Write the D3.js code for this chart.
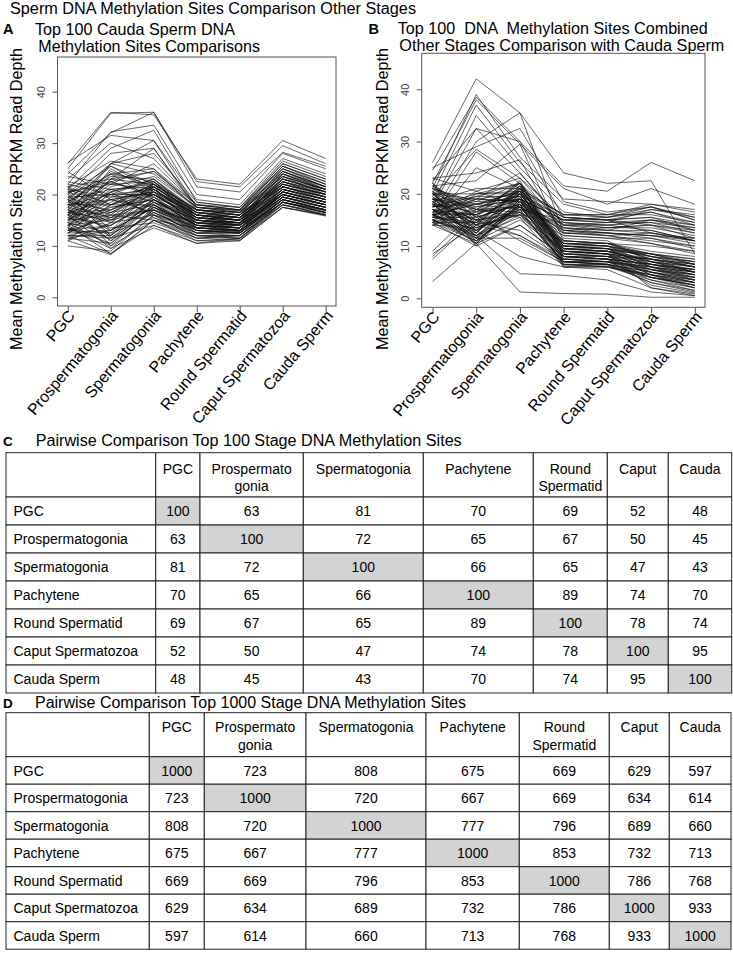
<!DOCTYPE html>
<html><head><meta charset="utf-8">
<script src="https://cdn.jsdelivr.net/npm/d3@7"></script>
<style>body{margin:0;background:#fff}svg{display:block}</style>
</head><body>
<svg id="c" width="733" height="953"></svg>
<script>
const stages = ["PGC","Prospermatogonia","Spermatogonia","Pachytene","Round Spermatid","Caput Spermatozoa","Cauda Sperm"];
const yTicks = [0,10,20,30,40];

// Panel A: top 100 cauda sperm sites, mean RPKM per stage
const methA = [
[26,36,35.5,23,22,30.5,27],[25,35.8,36,22.5,21.5,29.5,26],[24,32,36,21.5,20.5,28.2,25.5],[22,32.2,33.5,20,19,28,25],
[26.2,31.5,30.5,19,18,27,24],[21,29,32.5,18.5,17.5,26.5,23.5],[20,28,29,17.5,17,26,23],[23,30,27,18,17,25.5,22.5],
[19,26,30.5,17.5,16.5,25.5,22],[21.5,26.5,25,17,16,25,22],[18,25.5,22,16.5,15.5,24.5,21.5],[17,24.5,21.5,16,15,24,21],
[16,23,24.5,17.5,16.8,23.5,21],[20.5,22,21,15.5,15,23,20.5],[15,25,20.5,14.5,14,22.5,20],[13.5,24,22.5,15,14.5,22,20],
[19.5,20,23,16,15.5,21.5,19.5],[14,21,22,14.5,13.5,21,19],[12.5,19.5,21.5,13.5,13,20.5,18.5],[21.5,18,20,15,14.2,20.5,18.5],
[18.5,17,20.5,14,13.5,20,18],[16.5,15,19.5,13.5,12.8,19.5,17.5],[15.5,14,19,14,13.5,19.5,17.5],[13,12.5,18.5,13,12.5,19,17],
[12,11.5,18,12.5,12,18.5,16.5],[11.5,10.5,17,12,11.5,18.5,16.5],[10,9,16,11.5,11.2,18,16],[11,8.3,15,11,11,17.5,16],
[12,8.5,14,10.5,11.5,17.5,15.8],[13.5,9.5,16,12,12,18,16.2],[14.5,10,17.5,13,12.5,18.5,16.8],[17,11,18,13,12.8,19,17],
[20,12,19,14,13.5,19.5,17.5],[21,13,21,15,14.5,20,18],[19,14.5,22.5,15.5,15,21,18.5],[17.5,15.5,21.5,16,15.5,21.5,19],
[16,16.5,20,15,14.5,21,19],[14.5,17.5,19,14.5,14,20.5,18.5],[13,18,18,14,13.5,20,18],[12.5,16,17,13.5,13,19.5,17.5],
[15,19,16.5,13,12.5,19,17],[16,20.5,15.5,12.5,12.5,18.5,16.5],[18,19,17.5,14,13,19,17],[19,21,18.5,15,14,20,18],
[20.5,22.5,19.5,16,15,21,19],[22,20,20,16.5,15.5,22,19.5],[21,18,22,17,16,22.5,20],[18.5,23.5,23,17,16,23,20.5],
[17.5,26,24,17.5,16.5,23.5,21],[16.5,22,22.5,16.5,16,23,20.5],[15,20,21,15.5,15,22,20],[14,17,20,15,14.5,21.5,19.5],
[13,15.5,19.5,14.5,14,21,19],[12,14,18.5,14,13.5,20.5,18.5],[11.5,13,17.5,13.5,13,20,18],[13.5,11.5,16.5,12.5,12.5,19,17],
[14.5,12.5,15.5,12,12,18.5,16.5],[16,13.5,14.5,11.5,12,18,16],[17,14.5,16,13,13,18.5,16.5],[18,15.5,17,13.5,13,19,17],
[19.5,16.5,18,14,13.5,19.5,17.5],[20.5,17.5,19,14.5,14,20,18],[21,19.5,20,15.5,14.5,20.5,18.5],[18,18,21,16,15,21,19],
[16.5,17,21.5,16.5,15.5,21.5,19.5],[15,16,22,17,16,22,20],[14,15,20.5,16,15.5,22.5,20.5],[13,14,19,15.5,15,23,21],
[12.5,13,17.5,14.5,14.5,22.5,20.5],[15.5,12,18,13.5,13.5,21.5,19.5],[17.5,11,16.5,12.5,13,20.5,18.5],[19,10,15,11.5,12,19.5,17.5],
[20.5,11.5,14,11,11.5,18.5,17],[16,9.5,13.5,10.5,11,17.5,16],[14,8.5,15,12,11.5,18,16.5],[13.5,10.5,17,13,12.5,18.5,17],
[12,12,19,14,13,19,17.5],[11,14.5,20,15,14,19.5,18],[12.5,16.5,21,15.5,14.5,20.5,18.5],[14,18.5,22,16,15,21.5,19],
[15.5,20.5,23,16.5,15.5,22.5,19.5],[17,22.5,20,15.5,14.5,23.5,20],[18.5,24,19,15,14,24,20.5],[20,25.5,21,16,15,24.5,21],
[21.5,23,22,17,16,25,21.5],[22.5,21,21.5,16.5,15.5,24,21],[24.5,19,20.5,16,15,23,20.5],[19.5,24,25,18,17,24,21.5],
[17.5,22.5,24.5,18,17.5,25,22],[15,21.5,23.5,17.5,17,24.5,21.5],[13,20.5,22.5,17,16.5,23.5,21],[11,18,21.5,16.5,16,22,20],
[16.5,19,20.5,17,16.5,21.5,19.5],[18,20,16,14,14,20,18],[19,16,15,13.5,13,19,17],[21.5,15,17,14.5,13.5,20,18],
[17,13,18.5,15,14.5,20.5,18],[16,26,28,18.5,17.5,26,23],[23.5,22,26,18,17,25.5,22.5],[14.5,23,29,17,16.5,24.5,21.5]
];

// Panel B: top 100 sites of the combined other stages, mean RPKM per stage
const methB = [
[26,42,35.5,24,22,22.5,8.5],[24.5,38.5,30,21.5,20.5,26,22.5],[22,38,29.5,21,18,21,18],[21,39,27,19,18.5,18,16.5],
[20,37,26,18,16,17.5,15.5],[18,35,25,16.5,15.5,16.5,14.5],[22.5,32.5,30,15.5,15,15.5,14],[17.5,32.5,24,14.5,13.5,14,13],
[16,30,35.5,12.5,12,12.5,11.5],[25,29,32.5,18.5,16.5,17.5,15],[19.5,28.5,23,13.5,13,13,11],[15.5,28,22,10,9.5,8.5,6.5],
[14.5,25,21,9.5,9,7,5],[23,24,26.5,12,11.5,11.5,10],[21.5,22.5,29.5,11,10.5,10,9],
[20,17,21,16,15.5,17.5,15],[18,15,20,15.5,15,16.5,14],[16,13,19,15,14.5,17,16],[19,16,22,14.5,14,15,13.5],
[21,18,20.5,14,13.5,14,12.5],[17,14.5,18.5,13.5,13,12.5,11],[15,12,17.5,13,12.5,12,11.5],[14.5,11,17,12.5,12,11,10],
[18.5,10.5,18,13,12.5,12,10.5],[20.5,12.5,19.5,15.5,15,15.5,13],[22,14,21,16,16,16,14.5],[16.5,16,19,15,15.5,17,15.5],
[15,19,20,14,14,14.5,12.5],[17.5,20,22,13,13.5,13.5,12],[19,17.5,19,12.5,12.5,12,11],[14,13.5,16.5,12,11.5,10.5,8.5],
[21.5,15.5,18,14,14.5,15,13],[16,18,17,15,15,14,11.5],[18,11.5,16,14.5,14,13,11],[20,13,17.5,13.5,12.5,11.5,9.5],
[15.5,14.5,20.5,16,16,18,17],[23,20.5,23,15.5,15,12.5,11],[19,19,24,14,13,15,14],[8,16,19,15,14.5,14.5,13.5],
[17,12.5,21.5,13,12,10.5,9],
[17,16,20,11,10.5,9,8],[18.5,14,19,10.5,10,8.5,7.5],[16,12,18.5,10,9.5,8,6.5],[15,11,18,9.5,9,7.5,6],
[20,13,21,10,10,8,6],[21,15,20,9,9,7,5.5],[19,17,21.5,8.5,8.5,6.5,5],[17.5,18.5,22,8,8,6,4.5],
[16.5,19.5,19.5,7.5,7.5,5.5,4],[14.5,20,20.5,7,7,5,3.5],[14,17.5,19,6.5,6.5,4.5,3],[15.5,15.5,18,6.2,6.2,4,2.5],
[17,13.5,17,6,6,3.5,2],[18,12,16.5,7,6.5,3,1.5],[19.5,11,17.5,8,7.5,2.5,1],[20.5,10,18.5,9,8.5,4.5,2],
[22,11.5,20,10,9.5,6,3.5],[16,10.5,19,11,10.5,7.5,5],[15,12.5,20,10.5,10.5,8.5,6.5],[14.5,14.5,21,9.5,9.5,8,7],
[18,16.5,22,9,8.5,7.5,6.5],[19,18,19.5,8.5,8,7,6],[20,19,18.5,8,7.5,6.5,5.5],[21.5,17,17.5,7.5,7,6,5],
[17,15,16,7,7,5.5,4.5],[16,13,17,6.5,6.5,5,4],[15,11.5,18,6.5,6,4.5,3.5],[14,10.5,19,7,6.5,4,3],
[18.5,12.5,20.5,7.5,7,4,2.5],[19.5,14,21.5,8,7.5,5,3],[20.5,15.5,22.5,8.5,8,5.5,4],[21,16.5,20.5,9,8.5,6,5],
[17.5,18,19.5,9.5,9,6.5,5.5],[16.5,19,18.5,10,9.5,7,6],[15.5,20.5,17.5,10.5,10,7.5,6.5],[14.5,17,16.5,11,10.5,8,7],
[19,13.5,16,10.5,10,8.5,7.5],[18,12,15.5,9.5,9,8.5,7],[17,11,15,9,8.5,7.5,6],[16.5,10.5,14,8,7.5,6.5,5],
[20,14.5,13,7.5,7,6,4.5],[18.5,15,12,7,6.5,5,3.5],[16,16,11,6.5,6,4.5,3],[9,17,15.5,6,6,4,2.5],
[7.5,15,16.5,7,7,5.5,4.5],[8.5,14,17.5,8,7.5,6.5,5.5],[3.2,10.5,1.2,0.9,0.8,0.2,0.2],[15,12,4.7,4.4,3.5,1.2,0.5],
[17,13,8,6,5.5,2,0.8],[16,11.5,11.5,7,6.5,3,1.2],[19,14,12,7.5,7,3.5,1.5],[14.5,10,14,8,7.5,4,2],
[22,15.5,18,8.5,8,4.5,2.5],[21,18.5,19,9,8.5,5,3],[20,20,20,9.5,9,5.5,3.5],[18.5,21,21,10,9.5,6,4],
[17.5,19.5,22,10.5,10,6.5,4.5],[16,18,20.5,11.5,11,7,5],[14,16.5,17.5,8.5,8,7.5,6],[15.5,14,16,9,8.5,2,0.5]
];

// Tables
const colHeads = ["PGC","Prospermato\ngonia","Spermatogonia","Pachytene","Round\nSpermatid","Caput","Cauda"];
const rowHeads = ["PGC","Prospermatogonia","Spermatogonia","Pachytene","Round Spermatid","Caput Spermatozoa","Cauda Sperm"];
const top100 = [
[100,63,81,70,69,52,48],[63,100,72,65,67,50,45],[81,72,100,66,65,47,43],[70,65,66,100,89,74,70],
[69,67,65,89,100,78,74],[52,50,47,74,78,100,95],[48,45,43,70,74,95,100]];
const top1000 = [
[1000,723,808,675,669,629,597],[723,1000,720,667,669,634,614],[808,720,1000,777,796,689,660],
[675,667,777,1000,853,732,713],[669,669,796,853,1000,786,768],[629,634,689,732,786,1000,933],
[597,614,660,713,768,933,1000]];

const FONT = "'Liberation Sans', Arial, Helvetica, sans-serif";
const svg = d3.select("#c").style("font-family", FONT);

function txt(x, y, s, size, opts = {}) {
  const t = svg.append("text").attr("x", x).attr("y", y).text(s)
    .attr("font-size", size).attr("fill", opts.fill || "#000")
    .attr("font-weight", opts.bold ? "bold" : null)
    .style("white-space", "pre");
  if (opts.len) t.attr("textLength", opts.len).attr("lengthAdjust", "spacingAndGlyphs");
  if (opts.rot) t.attr("transform", `rotate(${opts.rot},${x},${y})`);
  if (opts.anchor) t.attr("text-anchor", opts.anchor);
  return t;
}

txt(10, 13.5, "Sperm DNA Methylation Sites Comparison Other Stages", 16, {len: 406});

function panel(cfg, data) {
  const g = svg.append("g");
  const x = d3.scalePoint().domain(stages).range([cfg.x0, cfg.x1]);
  const y = d3.scaleLinear().domain([0, 40]).range([cfg.y0, cfg.y40]);
  const line = d3.line().x((d, i) => x(stages[i])).y(d => y(d));
  g.append("g").selectAll("path").data(data).join("path")
    .attr("d", line).attr("fill", "none").attr("stroke", "#111")
    .attr("stroke-width", 0.75).attr("stroke-opacity", 0.85);
  g.append("rect").attr("x", cfg.bl).attr("y", cfg.bt)
    .attr("width", cfg.br - cfg.bl).attr("height", cfg.bb - cfg.bt)
    .attr("fill", "none").attr("stroke", "#555").attr("stroke-width", 1);
  const ya = g.append("g").attr("transform", `translate(${cfg.bl},0)`)
    .call(d3.axisLeft(y).tickValues(yTicks).tickSize(5).tickFormat(d3.format("d")));
  ya.attr("font-family", FONT).attr("font-size", 11);
  ya.select(".domain").remove();
  ya.selectAll(".tick line").attr("stroke", "#555");
  ya.selectAll(".tick text").attr("transform", "rotate(-90)").attr("x", 0).attr("y", -12.5)
    .attr("dy", null).attr("text-anchor", "middle").attr("fill", "#444");
  const xa = g.append("g").attr("transform", `translate(0,${cfg.bb})`)
    .call(d3.axisBottom(x).tickSize(6));
  xa.attr("font-family", FONT).attr("font-size", 16);
  xa.select(".domain").remove();
  xa.selectAll(".tick line").attr("stroke", "#555");
  xa.selectAll(".tick text").attr("x", 0).attr("y", 0).attr("dy", "0.35em")
    .attr("transform", "translate(3.2,6.5) rotate(-50)").attr("text-anchor", "end").attr("fill", "#000");
  // y axis title
  txt(cfg.labX, 199, "Mean Methylation Site RPKM Read Depth", 17, {rot: -90, anchor: "middle", len: 302});
}

panel({bl: 57.5, br: 336, bt: 57, bb: 306, x0: 67.8, x1: 325.7, y0: 297.3, y40: 91.7, labX: 21.7}, methA);
panel({bl: 421.7, br: 705, bt: 53.3, bb: 307.3, x0: 432.5, x1: 694.8, y0: 298.3, y40: 89.3, labX: 387.7}, methB);

txt(3, 34, "A", 14.5, {bold: true});
txt(35, 34.5, "Top 100 Cauda Sperm DNA", 16.5, {len: 200});
txt(38.3, 51.7, "Methylation Sites Comparisons", 16.5, {len: 221.7});
txt(368.5, 34, "B", 14.5, {bold: true});
txt(397.7, 34.3, "Top 100  DNA  Methylation Sites Combined", 16.5, {len: 310});
txt(399.3, 50.5, "Other Stages Comparison with Cauda Sperm", 16.5, {len: 325});

function table(cfg, vals) {
  const g = svg.append("g");
  const xs = cfg.cols;
  const ys = [cfg.top, cfg.head];
  for (let i = 1; i <= 7; i++) ys.push(cfg.head + i * cfg.rh);
  for (let r = 0; r < 8; r++) {
    for (let c = 0; c < 8; c++) {
      const diag = r > 0 && c > 0 && r === c;
      g.append("rect").attr("x", xs[c]).attr("y", ys[r]).attr("width", xs[c + 1] - xs[c])
        .attr("height", ys[r + 1] - ys[r]).attr("fill", diag ? "#d3d3d3" : "#fff")
        .attr("stroke", "#222").attr("stroke-width", 1);
    }
  }
  colHeads.forEach((h, j) => {
    const cx = (xs[j + 1] + xs[j + 2]) / 2;
    h.split("\n").forEach((ln, k) => {
      g.append("text").attr("x", cx).attr("y", cfg.hb1 + k * cfg.hls).attr("text-anchor", "middle")
        .attr("font-size", 14).text(ln);
    });
  });
  rowHeads.forEach((h, i) => {
    const cy = (ys[i + 1] + ys[i + 2]) / 2 + cfg.boff;
    g.append("text").attr("x", xs[0] + 7.5).attr("y", cy).attr("font-size", 14).text(h);
    vals[i].forEach((v, j) => {
      g.append("text").attr("x", (xs[j + 1] + xs[j + 2]) / 2).attr("y", cy)
        .attr("text-anchor", "middle").attr("font-size", 14).text(v);
    });
  });
}

txt(3, 446, "C", 13.5, {bold: true});
txt(35.7, 445.5, "Pairwise Comparison Top 100 Stage DNA Methylation Sites", 16, {len: 426});
table({cols: [6, 155.7, 200, 303.3, 423.3, 533.3, 607.3, 668.3, 731.7], top: 452.7, head: 497, rh: 28,
       hb1: 474, hls: 17, boff: 5}, top100);

txt(3, 708, "D", 13.5, {bold: true});
txt(35, 707.5, "Pairwise Comparison Top 1000 Stage DNA Methylation Sites", 16, {len: 431});
table({cols: [6, 149.3, 204.3, 306, 426, 519.3, 609.3, 669.3, 731], top: 712.7, head: 756.7, rh: 27.5,
       hb1: 731.5, hls: 18, boff: 5.2}, top1000);
</script>
</body></html>
